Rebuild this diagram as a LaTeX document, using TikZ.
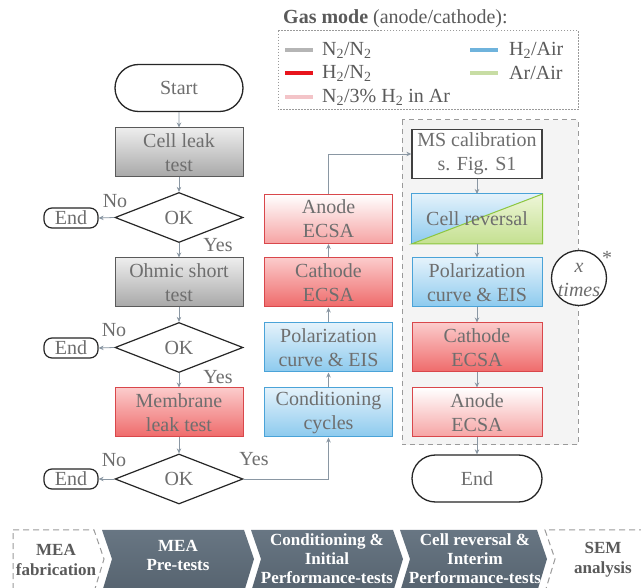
\documentclass[tikz,border=0pt]{standalone}
\usepackage{fontspec}
\setmainfont{Liberation Serif}
\usetikzlibrary{shapes.geometric,shapes.misc,arrows.meta,calc}
\definecolor{txtgray}{HTML}{6E6E6E}
\definecolor{legtxt}{HTML}{5A5A5A}
\definecolor{graytop}{HTML}{EDEDED}
\definecolor{graybot}{HTML}{A8A8A8}
\definecolor{grayborder}{HTML}{5A5A5A}
\definecolor{redtop}{HTML}{FBCBCB}
\definecolor{redbot}{HTML}{EF6A6A}
\definecolor{redborder}{HTML}{D9474B}
\definecolor{lredtop}{HTML}{FFFFFF}
\definecolor{lredbot}{HTML}{F6A3A3}
\definecolor{bluetop}{HTML}{E4F2FB}
\definecolor{bluebot}{HTML}{8CCAEE}
\definecolor{blueborder}{HTML}{4AA3D8}
\definecolor{greentop}{HTML}{EEF6D8}
\definecolor{greenbot}{HTML}{C4E090}
\definecolor{greenborder}{HTML}{8CC63F}
\definecolor{conncol}{HTML}{8A97A3}
\definecolor{chevtop}{HTML}{687683}
\definecolor{chevbot}{HTML}{56636F}
\definecolor{dashgray}{HTML}{9A9A9A}
\definecolor{boxbg}{HTML}{F4F4F4}
\definecolor{lgray}{HTML}{B5B5B5}
\definecolor{lred}{HTML}{E8141C}
\definecolor{lpink}{HTML}{F3C4C8}
\definecolor{lblue}{HTML}{6FB3DC}
\definecolor{lgreen}{HTML}{C8DDA4}
\tikzset{
  flowtxt/.style={font=\fontsize{20}{24}\selectfont, text=txtgray, align=center},
  box/.style={flowtxt, rectangle, minimum width=128pt, minimum height=49pt, inner sep=0pt, line width=1pt},
  graybox/.style={box, draw=grayborder, top color=graytop, bottom color=graybot},
  redbox/.style={box, draw=redborder, top color=redtop, bottom color=redbot},
  lredbox/.style={box, draw=redborder, top color=lredtop, bottom color=lredbot},
  bluebox/.style={box, draw=blueborder, top color=bluetop, bottom color=bluebot},
  whitebox/.style={box, draw=black!75, line width=1.3pt, fill=white},
  term/.style={flowtxt, rounded rectangle, draw=black!85, line width=1.3pt, fill=white, minimum width=128pt, minimum height=47pt, inner sep=0pt},
  endsm/.style={flowtxt, rectangle, rounded corners=8pt, draw=black!85, line width=1.2pt, fill=white, minimum width=54pt, minimum height=20pt, inner sep=0pt},
  dec/.style={flowtxt, diamond, aspect=2.6, draw=black!85, line width=1.2pt, fill=white, minimum width=128pt, minimum height=50pt, inner sep=0pt},
  conn/.style={draw=conncol, line width=0.8pt, -{Stealth[length=5pt,width=4.5pt]}},
  lbl/.style={font=\fontsize{20}{24}\selectfont, text=txtgray, inner sep=0pt},
  legline/.style={line width=4pt},
  legt/.style={font=\fontsize{20}{24}\selectfont, text=legtxt, anchor=west, inner sep=0pt},
  chevdark/.style={top color=chevtop, bottom color=chevbot, draw=none},
  chevwhite/.style={fill=white, draw=dashgray, line width=1pt, dash pattern=on 6pt off 4pt},
  chevtxt/.style={font=\bfseries\fontsize{17}{19}\selectfont, text=white, align=center, inner sep=0pt},
  chevtxtd/.style={font=\bfseries\fontsize{17}{20}\selectfont, text=legtxt, align=center, inner sep=0pt}
}
\begin{document}
\begin{tikzpicture}[x=1pt,y=-1pt]
\useasboundingbox[fill=white] (0,0) rectangle (641,588);

% legend
\node[anchor=base west, inner sep=0pt, font=\fontsize{20}{24}\selectfont, text=legtxt] (legtitle) at (283,24) {\textbf{Gas mode} (anode/cathode):};
\draw[dashgray, line width=1pt, dash pattern=on 1.5pt off 1.5pt] (278,31) rectangle (578,110);
\draw[legline, lgray] (285,50) -- (313,50);
\node[legt] (l1) at (322,50) {N\textsubscript{2}/N\textsubscript{2}};
\draw[legline, lred] (285,73) -- (313,73);
\node[legt] (l2) at (322,73) {H\textsubscript{2}/N\textsubscript{2}};
\draw[legline, lpink] (285,97) -- (313,97);
\node[legt] (l3) at (322,97) {N\textsubscript{2}/3\% H\textsubscript{2} in Ar};
\draw[legline, lblue] (470,50) -- (498,50);
\node[legt] (l4) at (509,50) {H\textsubscript{2}/Air};
\draw[legline, lgreen] (470,73) -- (498,73);
\node[legt] (l5) at (509,73) {Ar/Air};

% dashed region
\draw[dashgray, fill=boxbg, line width=1pt, dash pattern=on 5pt off 4pt] (402,120) rectangle (578,445);

% left column
\node[term] (start) at (179,88) {Start};
\node[graybox] (cell) at (179,152.5) {Cell leak\\test};
\node[dec] (ok1) at (179,217.5) {OK};
\node[endsm] (end1) at (71,218) {End};
\node[graybox] (ohmic) at (179,282.5) {Ohmic short\\test};
\node[dec] (ok2) at (179,347.5) {OK};
\node[endsm] (end2) at (71,348) {End};
\node[redbox] (memb) at (179,412.5) {Membrane\\leak test};
\node[dec] (ok3) at (179,479) {OK};
\node[endsm] (end3) at (71,479) {End};

\node[lbl] (no1) at (115,201) {No};
\node[lbl] (yes1) at (218,245) {Yes};
\node[lbl] (no2) at (114,330) {No};
\node[lbl] (yes2) at (218,377) {Yes};
\node[lbl] (no3) at (114,460) {No};
\node[lbl] (yes3) at (254,459) {Yes};

% middle column
\node[lredbox] (anodeM) at (328.5,219) {Anode\\ECSA};
\node[redbox] (cathM) at (328.5,282.5) {Cathode\\ECSA};
\node[bluebox] (polM) at (328.5,347.5) {Polarization\\curve \& EIS};
\node[bluebox] (condM) at (328.5,412.5) {Conditioning\\cycles};

% right column
\node[whitebox, minimum width=130pt] (ms) at (477,154) {MS calibration\\s. Fig. S1};
\node[box, minimum width=130pt, draw=none] (crev) at (477,219) {};
\shade[top color=bluetop, bottom color=bluebot] (crev.north west) -- (crev.north east) -- (crev.south west) -- cycle;
\shade[top color=greentop, bottom color=greenbot] (crev.north east) -- (crev.south east) -- (crev.south west) -- cycle;
\draw[blueborder, line width=1pt] (crev.south west) -- (crev.north west) -- (crev.north east);
\draw[greenborder, line width=1pt] (crev.north east) -- (crev.south east) -- (crev.south west) -- cycle;
\node[flowtxt, inner sep=0pt] (crevlbl) at (crev.center) {Cell reversal};
\node[bluebox, minimum width=130pt] (polR) at (477,282.5) {Polarization\\curve \& EIS};
\node[redbox, minimum width=130pt] (cathR) at (477,347.5) {Cathode\\ECSA};
\node[lredbox, minimum width=130pt] (anodeR) at (477,412.5) {Anode\\ECSA};
\node[term, minimum width=130pt] (endR) at (477,478.5) {End};

% x times circle
\node[circle, draw=black!85, line width=1.3pt, fill=white, minimum size=55pt, inner sep=0pt] (xt) at (579,278) {};
\node[flowtxt, font={\fontsize{20}{24}\selectfont\itshape}, inner sep=0pt] (xtlbl) at (579,280) {x\\times};
\node[lbl] (ast) at (607,258) {*};

% connectors
\draw[conn] (start) -- (cell);
\draw[conn] (cell) -- (ok1);
\draw[conn] (ok1) -- (ohmic);
\draw[conn] (ok1.west) -- (end1.east);
\draw[conn] (ohmic) -- (ok2);
\draw[conn] (ok2) -- (memb);
\draw[conn] (ok2.west) -- (end2.east);
\draw[conn] (memb) -- (ok3);
\draw[conn] (ok3.west) -- (end3.east);
\draw[conn] (ok3.east) -| (condM.south);
\draw[conn] (condM) -- (polM);
\draw[conn] (polM) -- (cathM);
\draw[conn] (cathM) -- (anodeM);
\draw[conn] (anodeM.north) |- (ms.west);
\draw[conn] (ms) -- (crev);
\draw[conn] (crev) -- (polR);
\draw[conn] (polR) -- (cathR);
\draw[conn] (cathR) -- (anodeR);
\draw[conn] (anodeR) -- (endR);

% bottom process chevrons
\draw[chevwhite] (13,530) -- (94,530) -- (104,559) -- (94,592) -- (13,592) -- cycle;
\shade[chevdark] (102,530) -- (244,530) -- (254,559) -- (244,592) -- (102,592) -- (112,559) -- cycle;
\shade[chevdark] (251,530) -- (393,530) -- (403,559) -- (393,592) -- (251,592) -- (261,559) -- cycle;
\shade[chevdark] (400,530) -- (537,530) -- (547,559) -- (537,592) -- (400,592) -- (410,559) -- cycle;
\draw[chevwhite] (645,530) -- (545,530) -- (555,559) -- (545,592);
\node[chevtxtd] (cfab) at (56,560) {MEA\\fabrication};
\node[chevtxt] (cpre) at (178,555) {MEA\\Pre-tests};
\node[chevtxt] (ccond) at (327,559) {Conditioning \&\\Initial\\Performance-tests};
\node[chevtxt] (ccell) at (475,559) {Cell reversal \&\\Interim\\Performance-tests};
\node[chevtxtd] (csem) at (603,560) {SEM\\analysis};
\end{tikzpicture}
\end{document}
